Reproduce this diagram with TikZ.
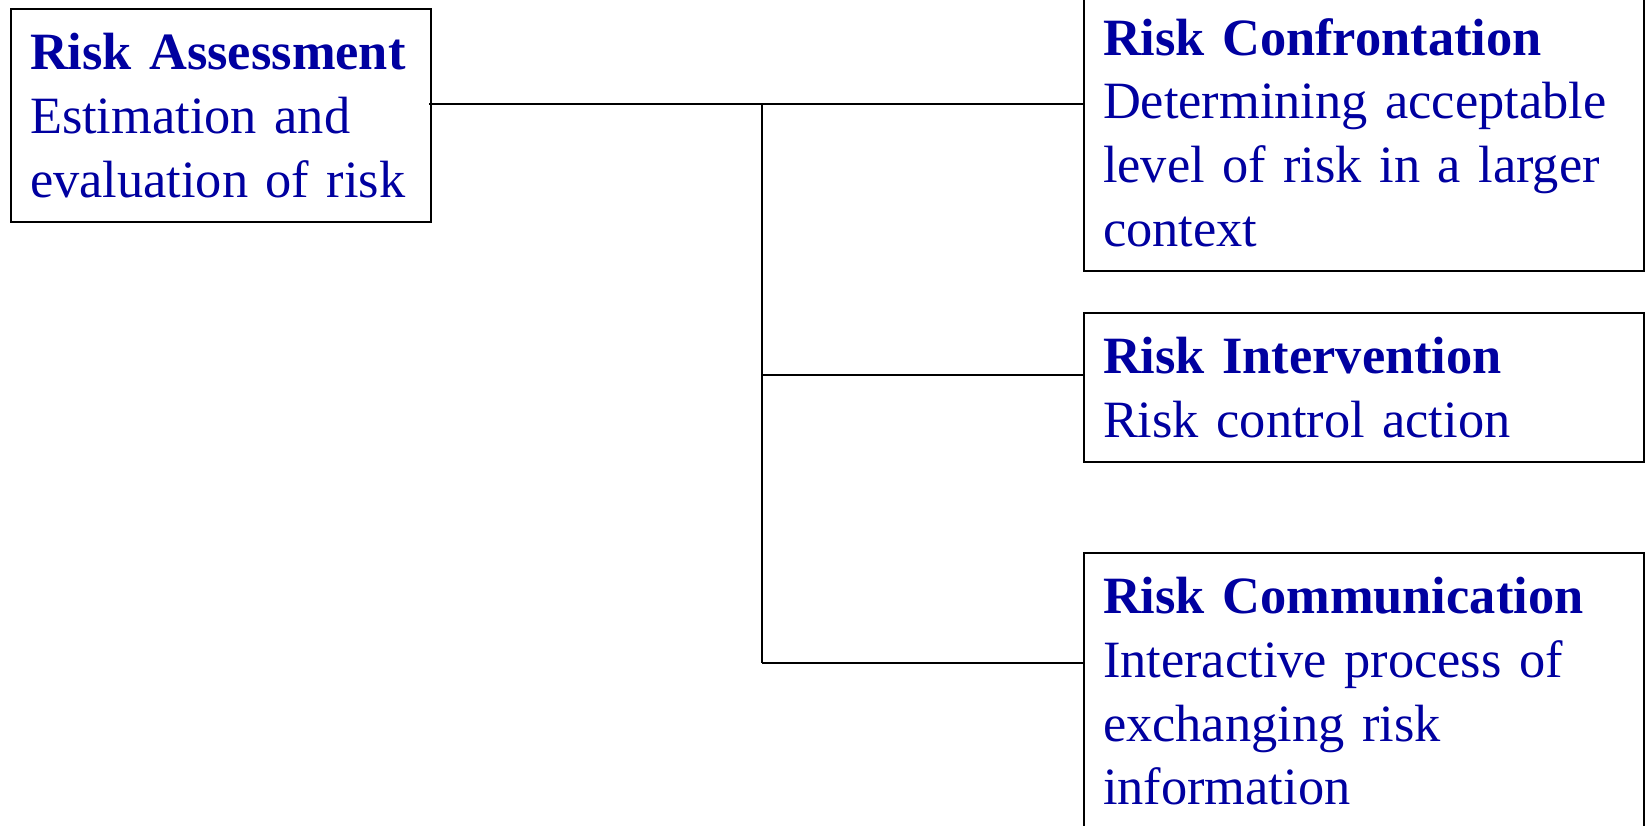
\documentclass[tikz,border=0pt]{standalone}
\usepackage{fontspec}
\setmainfont{Liberation Serif}
\definecolor{textblue}{RGB}{0,0,160}
\newcommand{\boxline}[1]{\mbox{#1}}
\begin{document}
\begin{tikzpicture}[x=1pt,y=-1pt,
  line width=2pt,
  infobox/.style={draw=black, fill=white, anchor=north west, align=left,
    text width=#1, inner xsep=19pt, inner ysep=24.5pt, text=textblue,
    font=\fontsize{52.4}{63.6}\selectfont},
  infobox/.default=522pt,
  link/.style={draw=black, line width=2pt}]
  \useasboundingbox (0,0) rectangle (1648,825);

  % boxes
  \node[infobox=382pt] (A) at (10,8)
    {\boxline{\textbf{Risk Assessment}}\\\boxline{Estimation and}\\\boxline{evaluation of risk}};
  \node[infobox] (B) at (1083,-7)
    {\boxline{\textbf{Risk Confrontation}}\\\boxline{Determining acceptable}\\\boxline{level of risk in a larger}\\\boxline{context}};
  \node[infobox] (C) at (1083,312)
    {\boxline{\textbf{Risk Intervention}}\\\boxline{Risk control action}};
  \node[infobox] (D) at (1083,552)
    {\boxline{\textbf{Risk Communication}}\\\boxline{Interactive process of}\\\boxline{exchanging risk}\\\boxline{information}};

  % tree connectors
  \coordinate (t1) at (762,104);
  \coordinate (t2) at (762,375);
  \coordinate (t3) at (762,663);
  \draw[link] ([xshift=-3pt]A.east |- t1) -- (B.west |- t1);
  \draw[link] (t1) -- (t3);
  \draw[link] (t2) -- (C.west |- t2);
  \draw[link] (t3) -- (D.west |- t3);
\end{tikzpicture}
\end{document}
